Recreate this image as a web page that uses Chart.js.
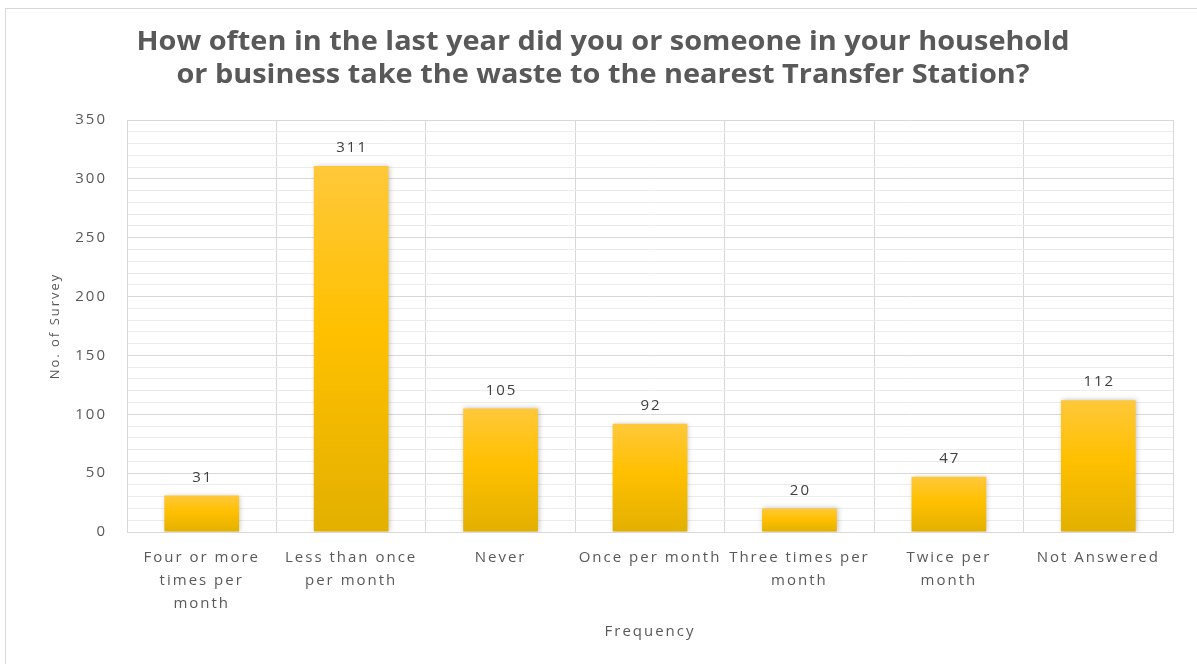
<!DOCTYPE html>
<html>
<head>
<meta charset="utf-8">
<script src="https://cdn.jsdelivr.net/npm/chart.js@4/dist/chart.umd.min.js"></script>
<style>
  html, body { margin: 0; padding: 0; background: #fff; }
  #frame { position: absolute; left: 5px; top: 8px; width: 1200px; height: 670px; border: 1px solid #d9d9d9; box-sizing: border-box; }
  #wrap { position: absolute; left: 0; top: 0; width: 1197px; height: 664px; }
</style>
</head>
<body>
<div id="frame"></div>
<div id="wrap"><canvas id="chart"></canvas></div>
<script>
const categories = [
    ['Four or more', 'times per', 'month'],
    ['Less than once', 'per month'],
    'Never',
    'Once per month',
    ['Three times per', 'month'],
    ['Twice per', 'month'],
    'Not Answered'
];
const surveyCounts = [31, 311, 105, 92, 20, 47, 112];
const titleLines = [
    'How often in the last year did you or someone in your household',
    'or business take the waste to the nearest Transfer Station?'
];

const labelColor = '#595959';

// the excel text is stretched wide, a bit of letter spacing gets close
const wideText = {
    id: 'wideText',
    beforeDraw(chart) {
        chart.ctx.letterSpacing = '2px';
    }
};

// title drawn by hand so it can be stretched to the same width
const chartTitle = {
    id: 'chartTitle',
    afterDraw(chart) {
        const ctx = chart.ctx;
        ctx.save();
        ctx.letterSpacing = '0px';
        ctx.font = 'bold 27px "Open Sans"';
        ctx.fillStyle = '#595959';
        ctx.textAlign = 'center';
        ctx.textBaseline = 'middle';
        const w = ctx.measureText(titleLines[0]).width;
        const sx = 933 / w;
        ctx.translate(603, 0);
        ctx.scale(sx, 1);
        ctx.fillText(titleLines[0], 0, 42);
        ctx.fillText(titleLines[1], 0, 75);
        ctx.restore();
    }
};

// values above each bar
const valueLabels = {
    id: 'valueLabels',
    afterDatasetsDraw(chart) {
        const ctx = chart.ctx;
        const meta = chart.getDatasetMeta(0);
        ctx.save();
        ctx.font = '15px "Open Sans"';
        ctx.fillStyle = '#404040';
        ctx.textAlign = 'center';
        ctx.textBaseline = 'middle';
        meta.data.forEach((bar, i) => {
            ctx.fillText(surveyCounts[i], bar.x + 1, bar.y - 18);
        });
        ctx.restore();
    }
};

const barShadow = {
    id: 'barShadow',
    beforeDatasetsDraw(chart) {
        chart.ctx.save();
        chart.ctx.shadowColor = 'rgba(0,0,0,0.25)';
        chart.ctx.shadowBlur = 5;
        chart.ctx.shadowOffsetX = 1;
    },
    afterDatasetsDraw(chart) {
        chart.ctx.restore();
    }
};

function goldGradient(context) {
    const chart = context.chart;
    const y = chart.scales.y;
    if (!chart.chartArea || !y || context.raw === undefined) return '#FFC000';
    const top = y.getPixelForValue(context.raw);
    const g = chart.ctx.createLinearGradient(0, top, 0, chart.chartArea.bottom);
    g.addColorStop(0, '#FFC83A');
    g.addColorStop(0.45, '#FFC000');
    g.addColorStop(1, '#E3B000');
    return g;
}

new Chart(document.getElementById('chart'), {
    type: 'bar',
    data: {
        labels: categories,
        datasets: [{
            label: 'No. of Survey',
            data: surveyCounts,
            backgroundColor: goldGradient,
            categoryPercentage: 1,
            barPercentage: 0.5
        }]
    },
    plugins: [wideText, barShadow, valueLabels, chartTitle],
    options: {
        responsive: true,
        maintainAspectRatio: false,
        animation: false,
        layout: { padding: { left: 0, right: 24, top: 120, bottom: 18 } },
        plugins: {
            legend: { display: false },
            tooltip: { enabled: false },
            title: { display: false }
        },
        scales: {
            x: {
                grid: { offset: true, color: '#d9d9d9', drawTicks: false },
                border: { color: '#d9d9d9' },
                ticks: {
                    color: labelColor,
                    font: { family: 'Open Sans', size: 15, lineHeight: 1.53 },
                    padding: 14,
                    maxRotation: 0,
                    autoSkip: false
                },
                title: {
                    display: true,
                    text: 'Frequency',
                    color: labelColor,
                    font: { family: 'Open Sans', size: 15 },
                    padding: { top: 0, bottom: 5 }
                },
                afterFit(scale) { scale.height = 114; }
            },
            y: {
                min: 0,
                max: 350,
                grid: {
                    drawTicks: false,
                    color: (c) => (c.tick && c.tick.value % 50 === 0) ? '#d9d9d9' : '#ececec'
                },
                border: { color: '#d9d9d9' },
                ticks: {
                    stepSize: 10,
                    color: labelColor,
                    font: { family: 'Open Sans', size: 15 },
                    padding: 20,
                    autoSkip: false,
                    callback: (v) => v % 50 === 0 ? v : ''
                },
                title: {
                    display: true,
                    text: 'No. of Survey',
                    color: labelColor,
                    font: { family: 'Open Sans', size: 13 },
                    padding: { top: 47, bottom: 0 }
                },
                afterFit(scale) { scale.width = 127; }
            }
        }
    }
});
</script>
</body>
</html>
